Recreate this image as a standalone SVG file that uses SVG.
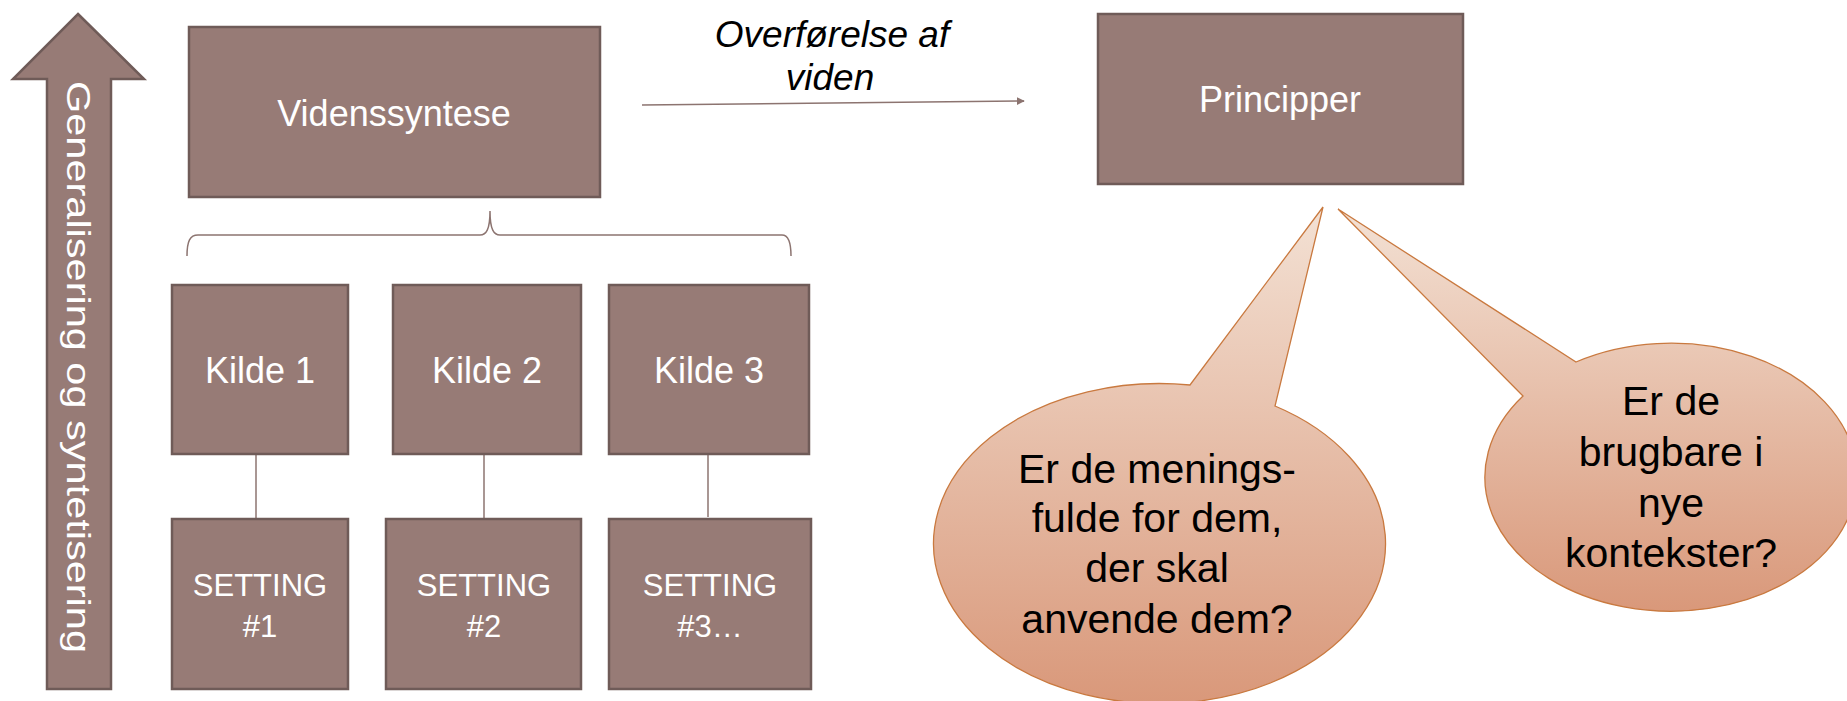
<svg xmlns="http://www.w3.org/2000/svg" width="1847" height="701" viewBox="0 0 1847 701">
<style>
.box{fill:#977b76;stroke:#6f5b58;stroke-width:2.5}
.wt{fill:#ffffff;font-family:"Liberation Sans",Arial,sans-serif;text-anchor:middle}
.bt{fill:#000000;font-family:"Liberation Sans",Arial,sans-serif;text-anchor:middle;font-size:41px}
.conn{stroke:#8c7470;stroke-width:1.5;fill:none}
.bub{stroke:#c9793f;stroke-width:1.3}
</style>
<defs>
<linearGradient id="g1" x1="0" y1="0" x2="0" y2="1">
<stop offset="0" stop-color="#f3e1d4"/>
<stop offset="1" stop-color="#d9987a"/>
</linearGradient>
<marker id="ah" viewBox="0 0 10 10" refX="9" refY="5" markerWidth="8" markerHeight="8" markerUnits="userSpaceOnUse" orient="auto">
<path d="M0,0 L10,5 L0,10 z" fill="#8c7470"/>
</marker>
</defs>

<g id="arrow-generalisering">
<path class="box" d="M78,14 L144,79 L111,79 L111,689 L47,689 L47,79 L13,79 z"/>
<text class="wt" font-size="33" transform="translate(67,367) rotate(90)" textLength="572" lengthAdjust="spacingAndGlyphs">Generalisering og syntetisering</text>
</g>

<g id="connectors">
<path class="conn" d="M642,105 L1024,101" marker-end="url(#ah)"/>
<path class="conn" d="M187,256 C187,241 190,235 198,235 L480,235 C486,235 490,230 490,211 C490,230 494,235 500,235 L782,235 C788,235 791,241 791,256"/>
<line class="conn" x1="256" y1="454" x2="256" y2="519"/>
<line class="conn" x1="484" y1="454" x2="484" y2="519"/>
<line class="conn" x1="708" y1="454" x2="708" y2="517"/>
</g>

<g id="label-overforelse">
<text class="bt" font-style="italic" x="832" y="47" style="font-size:37px">Overførelse af</text>
<text class="bt" font-style="italic" x="830" y="90" style="font-size:37px">viden</text>
</g>

<g id="videnssyntese">
<rect class="box" x="189" y="27" width="411" height="170"/>
<text class="wt" font-size="36" x="394" y="126">Videnssyntese</text>
</g>

<g id="principper">
<rect class="box" x="1098" y="14" width="365" height="170"/>
<text class="wt" font-size="36" x="1280" y="112">Principper</text>
</g>

<g id="kilde1">
<rect class="box" x="172" y="285" width="176" height="169"/>
<text class="wt" font-size="36" x="260" y="383">Kilde 1</text>
</g>
<g id="kilde2">
<rect class="box" x="393" y="285" width="188" height="169"/>
<text class="wt" font-size="36" x="487" y="383">Kilde 2</text>
</g>
<g id="kilde3">
<rect class="box" x="609" y="285" width="200" height="169"/>
<text class="wt" font-size="36" x="709" y="383">Kilde 3</text>
</g>

<g id="setting1">
<rect class="box" x="172" y="519" width="176" height="170"/>
<text class="wt" font-size="31" x="260" y="596">SETTING</text>
<text class="wt" font-size="31" x="260" y="637">#1</text>
</g>
<g id="setting2">
<rect class="box" x="386" y="519" width="195" height="170"/>
<text class="wt" font-size="31" x="484" y="596">SETTING</text>
<text class="wt" font-size="31" x="484" y="637">#2</text>
</g>
<g id="setting3">
<rect class="box" x="609" y="519" width="202" height="170"/>
<text class="wt" font-size="31" x="710" y="596">SETTING</text>
<text class="wt" font-size="31" x="710" y="637">#3…</text>
</g>

<g id="bubble-left">
<path class="bub" fill="url(#g1)" d="M1323,207 L1275,406 A226,160 0 1 1 1190,385 z"/>
<text class="bt" x="1157" y="483">Er de menings-</text>
<text class="bt" x="1157" y="532">fulde for dem,</text>
<text class="bt" x="1157" y="582">der skal</text>
<text class="bt" x="1157" y="633">anvende dem?</text>
</g>

<g id="bubble-right">
<path class="bub" fill="url(#g1)" d="M1338,209 L1576,362 A186,134 0 1 1 1523,396 z"/>
<text class="bt" x="1671" y="415">Er de</text>
<text class="bt" x="1671" y="466">brugbare i</text>
<text class="bt" x="1671" y="517">nye</text>
<text class="bt" x="1671" y="567">kontekster?</text>
</g>
</svg>
